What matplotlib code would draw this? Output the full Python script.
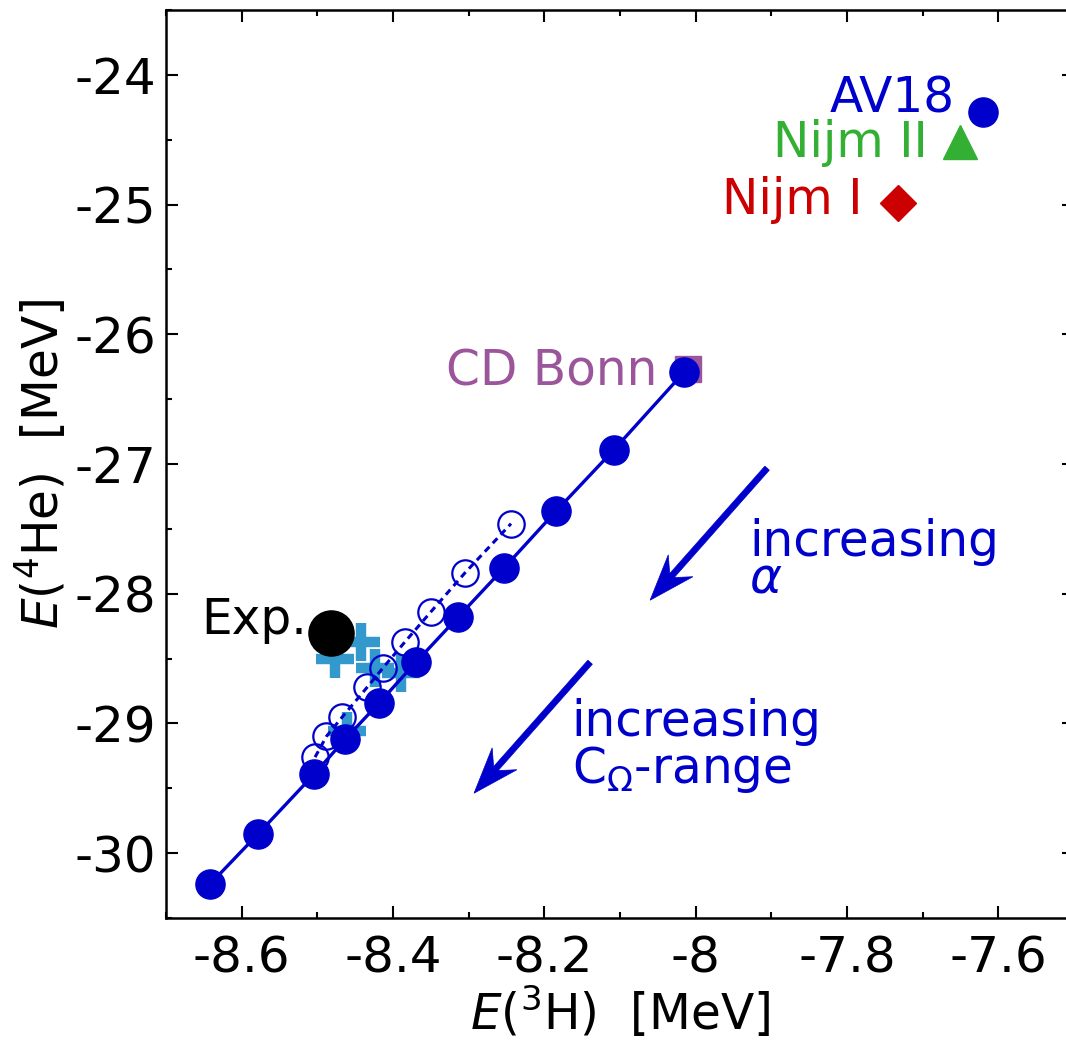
import matplotlib
matplotlib.use("Agg")
import matplotlib.pyplot as plt
import numpy as np
from matplotlib.patches import Polygon
from matplotlib.transforms import IdentityTransform

# ---- data ----
alpha_x = [-8.642, -8.578, -8.504, -8.463, -8.418, -8.370, -8.314, -8.253, -8.184, -8.108, -8.015]
alpha_y = [-30.24, -29.85, -29.39, -29.12, -28.84, -28.53, -28.18, -27.80, -27.36, -26.89, -26.29]

crange_x = [-8.503, -8.488, -8.467, -8.434, -8.413, -8.384, -8.350, -8.305, -8.244]
crange_y = [-29.26, -29.10, -28.95, -28.72, -28.57, -28.37, -28.14, -27.84, -27.46]

cross_x = [-8.477, -8.442, -8.424, -8.389, -8.461]
cross_y = [-28.50, -28.37, -28.57, -28.61, -29.06]

exp_x, exp_y = -8.482, -28.30
av18 = (-7.620, -24.284)
nijm2 = (-7.651, -24.518)
nijm1 = (-7.733, -24.986)
cdbonn = (-8.010, -26.266)

xticks = [-8.6, -8.4, -8.2, -8.0, -7.8, -7.6]
xticklabels = ["-8.6", "-8.4", "-8.2", "-8", "-7.8", "-7.6"]
yticks = [-30, -29, -28, -27, -26, -25, -24]
yticklabels = ["-30", "-29", "-28", "-27", "-26", "-25", "-24"]

BLUE = "#0000cc"
GREEN = "#33b033"
RED = "#cc0000"
PURPLE = "#9b559b"
LBLUE = "#3399cc"
FS = 35

plt.rcParams['font.family'] = ['DejaVu Sans']
plt.rcParams['mathtext.fontset'] = 'dejavusans'

fig = plt.figure(figsize=(10.66, 10.47), dpi=100)
W, H = 1066, 1047
ax = fig.add_axes([166 / W, (H - 918) / H, (1074 - 166) / W, (918 - 10) / H])
ax.set_xlim(-8.7, -7.5)
ax.set_ylim(-30.5, -23.5)

# crosses (lowest)
ax.plot(cross_x, cross_y, ls='none', marker='+', ms=27, mew=7.5, color=LBLUE, zorder=2)
# dashed / open circles
ax.plot(crange_x, crange_y, ls=(0, (2.2, 1.6)), lw=2.2, color=BLUE, marker='o', ms=19,
        mfc='none', mec=BLUE, mew=1.6, zorder=3)
# CD Bonn square
ax.plot(*cdbonn, marker='s', ms=19, color=PURPLE, ls='none', zorder=3.5)
# solid / filled circles
ax.plot(alpha_x, alpha_y, ls='-', lw=2.4, color=BLUE, marker='o', ms=21, zorder=4)
# Exp
ax.plot(exp_x, exp_y, marker='o', ms=32.5, color='black', ls='none', zorder=5)
# other potentials
ax.plot(*av18, marker='o', ms=21, color=BLUE, ls='none', zorder=5)
ax.plot(*nijm2, marker='^', ms=25, color=GREEN, ls='none', zorder=5)
ax.plot(*nijm1, marker='D', ms=18, color=RED, ls='none', zorder=5)

# labels
ax.text(-7.657, -24.287, "AV18", color=BLUE, fontsize=FS, ha='right', va='baseline')
ax.text(-7.693, -24.634, "Nijm II", color=GREEN, fontsize=FS, ha='right', va='baseline')
ax.text(-7.779, -25.073, "Nijm I", color=RED, fontsize=FS, ha='right', va='baseline')
ax.text(-8.050, -26.392, "CD Bonn", color=PURPLE, fontsize=FS, ha='right', va='baseline')
ax.text(-8.513, -28.312, "Exp.", color='black', fontsize=FS, ha='right', va='baseline')

ax.text(-7.929, -27.988, "increasing\n" + r"$\alpha$", color=BLUE, fontsize=FS,
        ha='left', va='baseline', linespacing=0.69)
ax.text(-8.164, -29.46, "increasing\n" + r"C$_\Omega$-range", color=BLUE, fontsize=FS,
        ha='left', va='baseline', linespacing=0.96)


def stealth_arrow(tail, tip, lw_px=6.0, head_len=46, head_w=33, notch=16):
    t = ax.transData.transform(tail)
    p = ax.transData.transform(tip)
    d = p - t
    L = np.hypot(*d)
    u = d / L
    n = np.array([-u[1], u[0]])
    base = p - u * head_len
    notchp = p - u * (head_len - notch)
    shaft_end = notchp + u * 2
    shaft = np.array([t + n * lw_px / 2, shaft_end + n * lw_px / 2,
                      shaft_end - n * lw_px / 2, t - n * lw_px / 2])
    head = np.array([p, base + n * head_w / 2, notchp, base - n * head_w / 2])
    for poly in (shaft, head):
        fig.patches.append(Polygon(poly, closed=True, transform=IdentityTransform(),
                                   facecolor=BLUE, edgecolor=BLUE, lw=0.5, figure=fig))


ax.set_xticks(xticks)
ax.set_xticklabels(xticklabels)
ax.set_yticks(yticks)
ax.set_yticklabels(yticklabels)
ax.set_xticks(np.arange(-8.7, -7.49, 0.1), minor=True)
ax.set_yticks(np.arange(-30.5, -23.49, 0.5), minor=True)
ax.tick_params(which='both', direction='in', top=True, right=True, width=1.5, labelsize=36)
ax.tick_params(which='major', length=8.6)
ax.tick_params(which='minor', length=4.3)
ax.tick_params(axis='x', pad=12)
ax.tick_params(axis='y', pad=7)
for s in ax.spines.values():
    s.set_linewidth(1.8)

ax.set_xlabel(r"$E$($^3$H)  [MeV]", fontsize=FS, labelpad=1)
ax.set_ylabel(r"$E$($^4$He)  [MeV]", fontsize=FS, labelpad=4)

stealth_arrow((-7.9056, -27.032), (-8.0602, -28.050))
stealth_arrow((-8.1395, -28.528), (-8.2929, -29.538))

fig.savefig("out.png", dpi=100)
